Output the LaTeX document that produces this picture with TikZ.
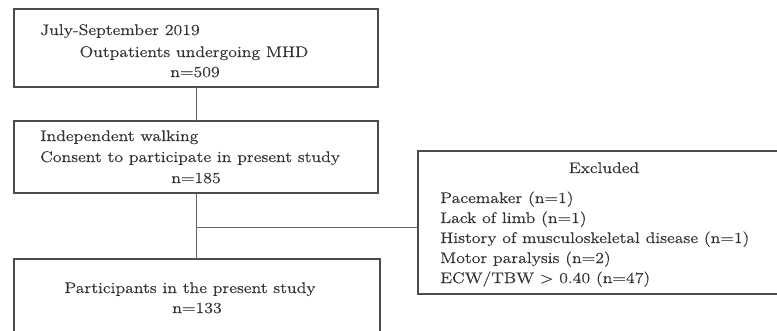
\documentclass[tikz,border=0pt]{standalone}
\usepackage{fontspec}
\setmainfont{Latin Modern Roman}[FakeStretch=1.16,FakeBold=0.4]
\begin{document}
\begin{tikzpicture}[x=0.75pt,y=-0.75pt,
  boxst/.style={draw=black!70,line width=1.1pt},
  conn/.style={draw=black!60,line width=0.7pt},
  txt/.style={inner sep=0pt,font=\fontsize{11.5}{13}\selectfont,text=black!80}]
\useasboundingbox (0,0) rectangle (777,331);
\begin{scope}
\clip (0,0) rectangle (777,331);
% boxes
\draw[boxst] (14,9) rectangle (378,87);
\coordinate (b1s) at (196.5,87);
\draw[boxst] (14,121) rectangle (378,193);
\coordinate (b2n) at (196.5,121);
\coordinate (b2s) at (196.5,193);
\draw[boxst] (418,151) rectangle (790,294);
\coordinate (b3w) at (418,227);
\draw[boxst] (14,259) rectangle (380,345);
\coordinate (b4n) at (196.5,259);
\end{scope}
\coordinate (j) at (196.5,227);
\draw[conn] (b1s) -- (b2n);
\draw[conn] (b2s) -- (b4n);
\draw[conn] (j) -- (b3w);
% texts
\node[txt,anchor=base west] (t1a) at (40,35) {July-September 2019};
\node[txt,anchor=base] (t1b) at (194,57) {Outpatients undergoing MHD};
\node[txt,anchor=base] (t1c) at (195,77) {n=509};
\node[txt,anchor=base west] (t2a) at (40,141) {Independent walking};
\node[txt,anchor=base west] (t2b) at (40,162) {Consent to participate in present study};
\node[txt,anchor=base] (t2c) at (196,183) {n=185};
\node[txt,anchor=base] (t4a) at (190,293) {Participants in the present study};
\node[txt,anchor=base] (t4b) at (197,313) {n=133};
\node[txt,anchor=base] (t3a) at (604,173) {Excluded};
\node[txt,anchor=base west] (t3b) at (440,203) {Pacemaker (n=1)};
\node[txt,anchor=base west] (t3c) at (440,223) {Lack of limb (n=1)};
\node[txt,anchor=base west] (t3d) at (440,243) {History of musculoskeletal disease (n=1)};
\node[txt,anchor=base west] (t3e) at (440,263) {Motor paralysis (n=2)};
\node[txt,anchor=base west] (t3f) at (440,283) {ECW/TBW > 0.40 (n=47)};
\end{tikzpicture}
\end{document}
